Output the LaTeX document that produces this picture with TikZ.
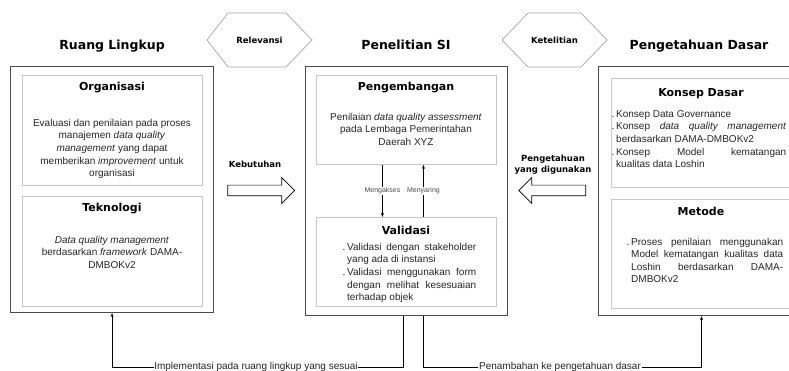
\documentclass[tikz,border=0pt]{standalone}
\usepackage{fontspec}
\setmainfont{Liberation Sans}
\newfontfamily\vfont{DejaVu Sans}
\usetikzlibrary{arrows.meta,shapes.arrows}
\newcommand\lstdot{\leavevmode\llap{.\hspace{1.8pt}}}
\newcommand\bodyfnt{\fontsize{10}{12.6}\selectfont}
\tolerance=9999\relax
\hyphenpenalty=10000\relax
\tikzset{
  outerbox/.style={draw=black!70, line width=1.1pt, inner sep=0pt, anchor=north west},
  innerbox/.style={draw=black!22, line width=0.9pt, inner sep=0pt, anchor=north west, minimum width=180pt},
  hexa/.style={draw=black!35, line width=0.7pt},
  bigtitle/.style={font=\vfont\bfseries\fontsize{12.5}{14}\selectfont, inner sep=0pt, anchor=base},
  subtitle/.style={font=\vfont\bfseries\fontsize{11}{13}\selectfont, inner sep=0pt, anchor=base},
  smallbold/.style={font=\vfont\bfseries\fontsize{8.5}{11}\selectfont, inner sep=0pt, align=center},
  body/.style={font=\bodyfnt, inner sep=0pt, align=center, anchor=north, text=black!85},
  listtext/.style={font=\bodyfnt, inner sep=0pt, align=justify, anchor=north west, text=black!85},
  blockarrow/.style={draw=black, line width=0.7pt, fill=white, single arrow, minimum height=67pt, inner xsep=0pt, inner ysep=5pt, single arrow head extend=7.5pt},
  conn/.style={draw=black, line width=0.7pt},
  tipend/.style={-{Stealth[length=4pt,width=3pt]}},
  minilabel/.style={font=\fontsize{7}{8}\selectfont, fill=white, inner sep=1pt, text=black!70},
  bottomlabel/.style={font=\fontsize{10}{12}\selectfont, fill=white, inner xsep=0.5pt, inner ysep=1pt, text=black!85},
}
\begin{document}
\begin{tikzpicture}[x=1pt,y=-1pt]
\clip (0,0) rectangle (789,371);
\fill[white] (0,0) rectangle (789,371);

% outer boxes
\node[outerbox, minimum width=203pt, minimum height=246pt] (L) at (10,66) {};
\node[outerbox, minimum width=202pt, minimum height=249pt] (C) at (305,66) {};
\node[outerbox, minimum width=203pt, minimum height=249pt] (R) at (598,66) {};

% inner boxes
\node[innerbox, minimum height=110pt] (O) at (22,75) {};
\node[innerbox, minimum height=110pt] (T) at (22,196) {};
\node[innerbox, minimum height=89pt] (P) at (316,75) {};
\node[innerbox, minimum height=89pt] (V) at (316,217) {};
\node[innerbox, minimum height=109pt] (K) at (611,78) {};
\node[innerbox, minimum height=109pt] (M) at (611,199) {};

% hexagons
\draw[hexa] (207,40) -- (228,13) -- (286,13) -- (312,40) -- (286,67) -- (228,67) -- cycle;
\draw[hexa] (502,40) -- (528,13) -- (581,13) -- (607,40) -- (581,67) -- (528,67) -- cycle;
\node[smallbold] (rel) at (259.5,40) {Relevansi};
\node[smallbold] (ket) at (554.5,40) {Ketelitian};

% titles
\node[bigtitle] (tL) at (112,49.5) {Ruang Lingkup};
\node[bigtitle] (tC) at (406,49.5) {Penelitian SI};
\node[bigtitle] (tR) at (699,49.5) {Pengetahuan Dasar};

% subtitles
\node[subtitle] (sO) at (112,91) {Organisasi};
\node[subtitle] (sT) at (112,212) {Teknologi};
\node[subtitle] (sP) at (406,91) {Pengembangan};
\node[subtitle] (sV) at (406,235) {Validasi};
\node[subtitle] (sK) at (701,97) {Konsep Dasar};
\node[subtitle] (sM) at (701,216) {Metode};

% body texts
\node[body] (bO) at (112,117.2) {\strut Evaluasi dan penilaian pada proses\\ manajemen \textit{data quality}\\ \textit{management} yang dapat\\ memberikan \textit{improvement} untuk\\ organisasi};
\node[body] (bT) at (112,234.2) {\strut\textit{Data quality management}\\ berdasarkan \textit{framework} DAMA-\\ DMBOKv2};
\node[body] (bP) at (406,111.2) {\strut Penilaian \textit{data quality assessment}\\ pada Lembaga Pemerintahan\\ Daerah XYZ};

\node[listtext, text width=129pt] (bV) at (347,241.2) {\lstdot\strut Validasi dengan stakeholder\linebreak yang ada di instansi\par
\lstdot Validasi menggunakan form\linebreak dengan melihat kesesuaian\linebreak terhadap objek};

\node[listtext, text width=170pt] (bK) at (616,108.2) {\lstdot\strut Konsep Data Governance\par
\lstdot Konsep \textit{data quality management}\linebreak berdasarkan DAMA-DMBOKv2\par
\lstdot Konsep Model kematangan\linebreak kualitas data Loshin};

\node[listtext, text width=152pt] (bM) at (631,236) {\lstdot\strut Proses penilaian menggunakan\linebreak Model kematangan kualitas data\linebreak Loshin berdasarkan DAMA-\linebreak DMBOKv2};

% block arrows
\node[blockarrow] (ka) at (258.5,190.5) {};
\node[blockarrow, shape border rotate=180] (pa) at (555,190.5) {};
\node[smallbold] (keb) at (255,164) {Kebutuhan};
\node[smallbold] (pyd) at (553,164.5) {Pengetahuan\\yang digunakan};

% inner connectors
\draw[conn, tipend] ([xshift=-24pt]P.south) -- node[minilabel] (mak) {Mengakses} ([xshift=-24pt]V.north);
\draw[conn, tipend] ([xshift=17pt]V.north) -- node[minilabel] (mny) {Menyaring} ([xshift=17pt]P.south);

% bottom connectors
\node[bottomlabel] (imp) at (256,367) {Implementasi pada ruang lingkup yang sesuai};
\node[bottomlabel] (pen) at (560,367) {Penambahan ke pengetahuan dasar};
\draw[conn] ([xshift=-3pt]C.south) |- (imp.east);
\draw[conn, tipend] (imp.west) -| (L.south);
\draw[conn] ([xshift=17pt]C.south) |- (pen.west);
\draw[conn, tipend] (pen.east) -| ([xshift=1.5pt]R.south);
\end{tikzpicture}
\end{document}
